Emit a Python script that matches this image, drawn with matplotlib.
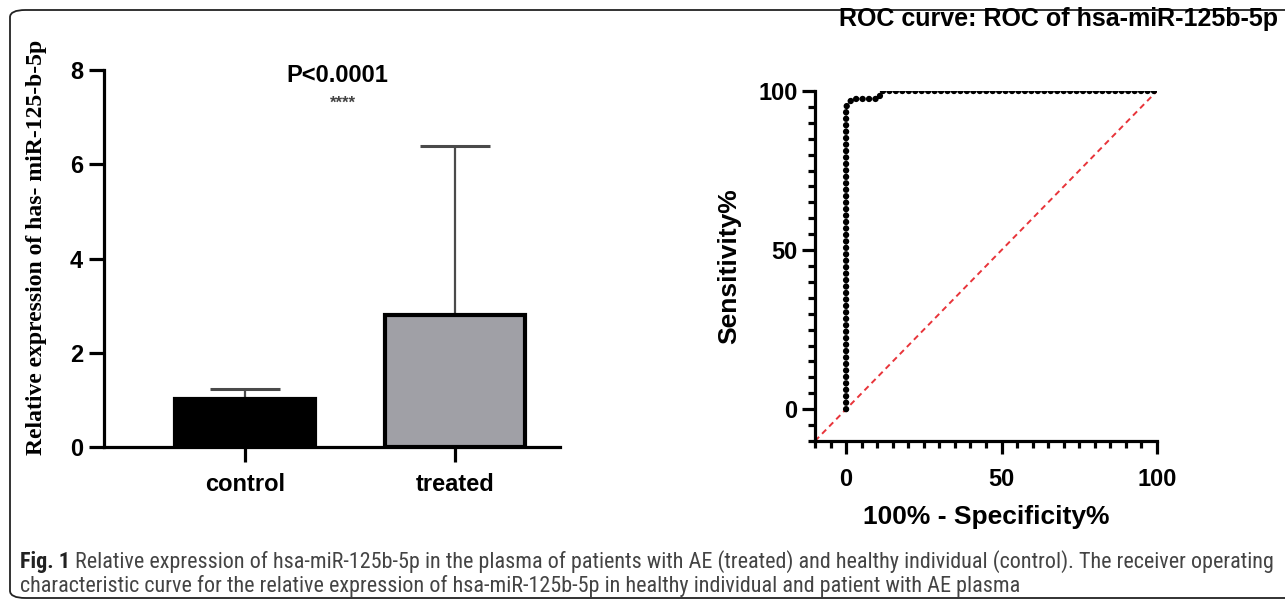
import matplotlib as mpl
mpl.use('Agg')
import matplotlib.pyplot as plt
from matplotlib.patches import FancyBboxPatch
from matplotlib.ticker import MultipleLocator

# bar chart values
groups = ['control', 'treated']
means = [1.02, 2.80]
err_up = [0.21, 3.58]
bar_colors = ['#000000', '#a0a0a6']

# ROC curve (100% - specificity, sensitivity)
roc_fpr = [0, 0, 2, 10.5, 11.5, 100]
roc_tpr = [0, 95, 97.5, 97.5, 100, 100]
diag = [-10, 100]

caption_1 = ('Relative expression of hsa-miR-125b-5p in the plasma of patients with AE (treated) '
             'and healthy individual (control). The receiver operating')
caption_2 = ('characteristic curve for the relative expression of hsa-miR-125b-5p in healthy '
             'individual and patient with AE plasma')

W, H = 1285, 605
fig = plt.figure(figsize=(W / 100, H / 100), dpi=100)
fig.patch.set_facecolor('white')

def px_axes(x0, y0, x1, y1):
    # pixel box (left, top, right, bottom) -> figure axes
    return fig.add_axes([x0 / W, 1 - y1 / H, (x1 - x0) / W, (y1 - y0) / H])

sans = 'Liberation Sans'

# outer rounded frame
frame = FancyBboxPatch((10 / W, 1 - 598 / H), 1300 / W, 588 / H,
                       boxstyle='round,pad=0,rounding_size=0.012',
                       transform=fig.transFigure, fill=False, lw=1.3,
                       edgecolor='#222222', clip_on=False)
fig.patches.append(frame)

# ---- bar chart ----
ax = px_axes(104, 70, 560, 447)
x = [0, 1]
ax.bar(x, means, width=0.667, color=bar_colors, edgecolor='black', linewidth=3, zorder=2)
ax.errorbar(x, means, yerr=[[0, 0], err_up], fmt='none', ecolor='#4a4a4a',
            elinewidth=1.6, capsize=25, capthick=2.2, zorder=1)
ax.set_xlim(-0.67, 1.5)
ax.set_ylim(0, 8)
ax.set_yticks([0, 2, 4, 6, 8])
ax.set_xticks(x)
ax.set_xticklabels(groups)
for s in ['top', 'right']:
    ax.spines[s].set_visible(False)
for s in ['left', 'bottom']:
    ax.spines[s].set_linewidth(2.3)
ax.tick_params(axis='both', length=11, width=2.3, direction='out')
ax.tick_params(axis='y', pad=4)
ax.tick_params(axis='x', pad=8)
for lab in ax.get_xticklabels() + ax.get_yticklabels():
    lab.set_fontfamily(sans)
    lab.set_fontweight('bold')
    lab.set_fontsize(17)
ax.text(0.44, 7.88, 'P<0.0001', ha='center', va='center', fontsize=17,
        fontweight='bold', family=sans)
ax.text(0.465, 7.3, '****', ha='center', va='center', fontsize=12,
        fontweight='bold', family=sans, color='#444444')
fig.text(37 / W, 1 - 247 / H, 'Relative expression of has- miR-125-b-5p',
         rotation=90, ha='center', va='center', fontsize=17,
         fontweight='bold', family='Liberation Serif')

# ---- ROC curve ----
ax2 = px_axes(815, 91, 1157, 441)
ax2.plot(diag, diag, color='#e8343a', lw=1.4, ls=(0, (3, 2.2)), zorder=1)
ax2.plot(roc_fpr, roc_tpr, color='black', lw=4.6, ls=(0, (0.01, 1.0)),
         dash_capstyle='round', solid_capstyle='round', zorder=2)
ax2.set_xlim(-10, 100)
ax2.set_ylim(-10, 100)
ax2.set_xticks([0, 50, 100])
ax2.set_yticks([0, 50, 100])
ax2.xaxis.set_minor_locator(MultipleLocator(5))
ax2.yaxis.set_minor_locator(MultipleLocator(5))
for s in ['top', 'right']:
    ax2.spines[s].set_visible(False)
for s in ['left', 'bottom']:
    ax2.spines[s].set_linewidth(2.3)
ax2.tick_params(axis='both', which='major', length=9.5, width=2.3, direction='out')
ax2.tick_params(axis='both', which='minor', length=5, width=2.3, direction='out')
ax2.tick_params(axis='y', pad=3)
ax2.tick_params(axis='x', pad=10)
for lab in ax2.get_xticklabels() + ax2.get_yticklabels():
    lab.set_fontfamily(sans)
    lab.set_fontweight('bold')
    lab.set_fontsize(17)
ax2.set_ylabel('Sensitivity%', fontsize=19, fontweight='bold', family=sans, labelpad=12)
ax2.set_xlabel('100% - Specificity%', fontsize=19, fontweight='bold', family=sans, labelpad=10)
fig.text(1278 / W, 1 - 19 / H, 'ROC curve: ROC of hsa-miR-125b-5p', ha='right',
         va='center', fontsize=18, fontweight='bold', family=sans)

# ---- caption ----
cap_font = ['Roboto Condensed', 'Liberation Sans Narrow', 'Roboto', 'DejaVu Sans']
cap_size = 13
r = fig.canvas.get_renderer()
fig_lab = fig.text(20 / W, 1 - 562 / H, 'Fig. 1', ha='left', va='center', fontsize=cap_size,
                   fontweight='bold', family=cap_font, color='#222222')
bb = fig_lab.get_window_extent(r)
line1 = fig.text((bb.x1 + 5) / W, 1 - 562 / H, caption_1, ha='left', va='center',
                 fontsize=cap_size, family=cap_font, color='#444444')
# fit first line to the frame width
w1 = line1.get_window_extent(r).x1
scale = (1268 - 20) / (w1 - 20)
cap_size = cap_size * scale
fig_lab.set_fontsize(cap_size)
bb = fig_lab.get_window_extent(r)
line1.set_fontsize(cap_size)
line1.set_x((bb.x1 + 5) / W)
fig.text(20 / W, 1 - 586 / H, caption_2, ha='left', va='center',
         fontsize=cap_size, family=cap_font, color='#444444')

fig.savefig('out.png', dpi=100)
